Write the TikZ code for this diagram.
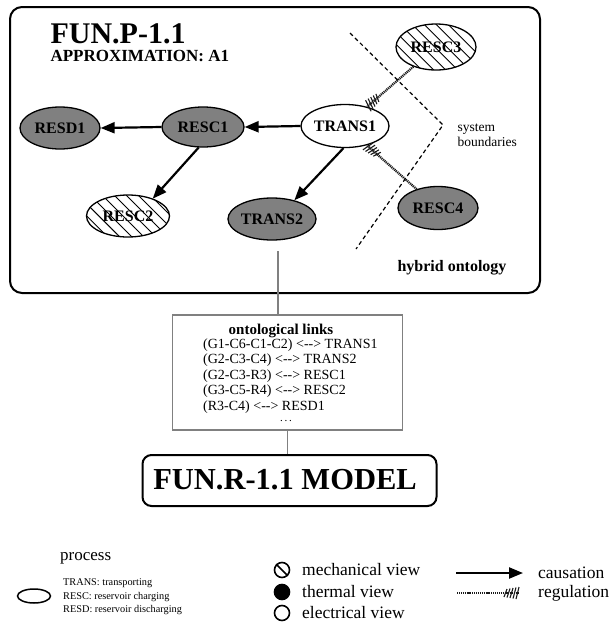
\documentclass[tikz,border=0pt]{standalone}
\usepackage{fontspec}
\setmainfont{Liberation Serif}
\usetikzlibrary{shapes.geometric,arrows.meta,patterns.meta,decorations.markings}
\newcommand\fsz[2]{\fontsize{#1}{#2}\selectfont}
\newcommand\dbl{<{-}{-}>}
\tikzset{
  proc/.style={ellipse, draw, line width=1.3pt, inner sep=0pt,
    minimum width=80pt, minimum height=42pt, font=\bfseries\fsz{16}{18}},
  therm/.style={proc, fill=black!50},
  mech/.style={proc, pattern={Lines[angle=-45,distance=8.5pt,line width=0.9pt]}},
  elec/.style={proc, fill=white},
  causal/.style={line width=2.2pt, -{Triangle[length=14pt,width=11pt]}},
  regtick/.style={solid, line width=1.1pt},
  regul/.style={line width=2.3pt, black!90, dash pattern=on 1.1pt off 0.8pt,
    postaction={decorate},
    decoration={markings,
      mark=at position -1.5pt with {\draw[regtick] (-1.5pt,-6pt) -- (1.5pt,6pt);},
      mark=at position -4.5pt with {\draw[regtick] (-1.5pt,-5.5pt) -- (1.5pt,5.5pt);},
      mark=at position -7.5pt with {\draw[regtick] (-1.5pt,-5pt) -- (1.5pt,5pt);},
      mark=at position -10.5pt with {\draw[regtick] (-1.5pt,-4.5pt) -- (1.5pt,4.5pt);},
      mark=at position -13.5pt with {\draw[regtick] (-1.5pt,-4pt) -- (1.5pt,4pt);}}},
  boundary/.style={line width=1.2pt, dash pattern=on 4pt off 3pt},
  graylink/.style={line width=1.6pt, black!50},
  legtext/.style={anchor=west, inner sep=0pt, font=\fsz{17.5}{20}},
  legsym/.style={circle, draw, line width=1.6pt, minimum size=15pt, inner sep=0pt},
}
\begin{document}
\begin{tikzpicture}[x=1pt,y=-1pt]
\useasboundingbox (0,0) rectangle (609,622);

% ---- process model frame ----
\node[draw, line width=2pt, rounded corners=12pt, minimum width=530pt,
  minimum height=286pt, inner sep=0pt] (frame) at (275,150) {};
\node[anchor=west, font=\bfseries\fsz{30}{34}] (title) at (47,34) {FUN.P-1.1};
\node[anchor=west, font=\bfseries\fsz{17}{20}] (approx) at (47,56) {APPROXIMATION: A1};
\node[anchor=east, font=\bfseries\fsz{16}{19}] (hybrid) at (510,268) {hybrid ontology};

% ---- processes ----
\node[therm] (resd1) at (60,128) {RESD1};
\node[therm, minimum width=82pt, minimum height=40pt] (resc1) at (203,127) {RESC1};
\node[elec, minimum height=43pt] (trans1) at (345,126) {TRANS1};
\node[mech, minimum width=83pt] (resc2) at (128,216) {RESC2};
\node[therm] (trans2) at (272,219) {TRANS2};
\node[mech, minimum height=46pt] (resc3) at (436,47) {RESC3};
\node[therm, minimum height=43pt] (resc4) at (438,208) {RESC4};

% ---- causation ----
\draw[causal] (trans1.west) -- (resc1.east);
\draw[causal] (resc1.west) -- (resd1.east);
\draw[causal] (resc1.258) -- (resc2.35);
\draw[causal] (trans1.266) -- (trans2.40);

% ---- regulation ----
\draw[regul] (resc3) -- (trans1);
\draw[regul] (resc4) -- (trans1);

% ---- system boundaries ----
\coordinate (b1) at (350,33);
\coordinate (b2) at (443,125);
\coordinate (b3) at (356,249);
\draw[boundary] (b1) -- (b2) -- (b3);
\node[anchor=west, align=left, font=\fsz{13.5}{15}] (sysb) at (454,135) {system\\boundaries};

% ---- ontological links ----
\node[draw=black!50, line width=1.8pt, minimum width=230pt, minimum height=115pt,
  inner sep=0pt] (links) at (287.5,372.5) {};
\node[font=\bfseries\fsz{15}{17}] (linkstitle) at (281,331) {ontological links};
\node[anchor=west, align=left, font=\fsz{14}{15.4}, inner sep=0pt] (linklist) at (203,376)
  {(G1-C6-C1-C2) \dbl{} TRANS1\\(G2-C3-C4) \dbl{} TRANS2\\(G2-C3-R3) \dbl{} RESC1\\(G3-C5-R4) \dbl{} RESC2\\(R3-C4) \dbl{} RESD1};
\node[anchor=base, font=\fsz{11}{12}, inner sep=0pt] (linkdots) at (286,421) {.\,.\,.};

\coordinate (up) at (278,251);
\draw[graylink] (up) -- (up |- links.north);

% ---- resulting model ----
\node[draw, line width=2pt, rounded corners=9pt, minimum width=294pt,
  minimum height=51pt, inner sep=0pt] (model) at (289.5,480.5) {};
\node[font=\bfseries\fsz{30.5}{34}] (modeltext) at (285,480) {FUN.R-1.1 MODEL};
\draw[graylink] (links.south) -- (links.south |- model.north);

% ---- legend ----
\node[legtext, font=\fsz{17}{20}] (legprocess) at (60,558) {process};
\node[ellipse, draw, line width=1.5pt, minimum width=33pt, minimum height=14pt,
  inner sep=0pt] (legproc) at (34,596) {};
\node[anchor=west, align=left, inner sep=0pt, font=\fsz{10.3}{13.5}] (legnames) at (63,597)
  {TRANS: transporting\\RESC: reservoir charging\\RESD: reservoir discharging};

\node[legsym] (symmech) at (282,570) {};
\draw[line width=1.6pt] (symmech.north west) -- (symmech.south east);
\node[legsym, fill=black] (symtherm) at (282,592) {};
\node[legsym] (symelec) at (282,613) {};
\node[legtext] (legmech) at (302,570) {mechanical view};
\node[legtext] (legtherm) at (302,592) {thermal view};
\node[legtext] (legelec) at (302,613) {electrical view};

\coordinate (ca) at (456,573);
\coordinate (cb) at (523,573);
\draw[causal] (ca) -- (cb);
\coordinate (ra) at (457,593);
\coordinate (rb) at (519,593);
\draw[regul] (ra) -- (rb);
\node[legtext] (legcaus) at (538,573) {causation};
\node[legtext] (legreg) at (538,593) {regulation};
\end{tikzpicture}
\end{document}
